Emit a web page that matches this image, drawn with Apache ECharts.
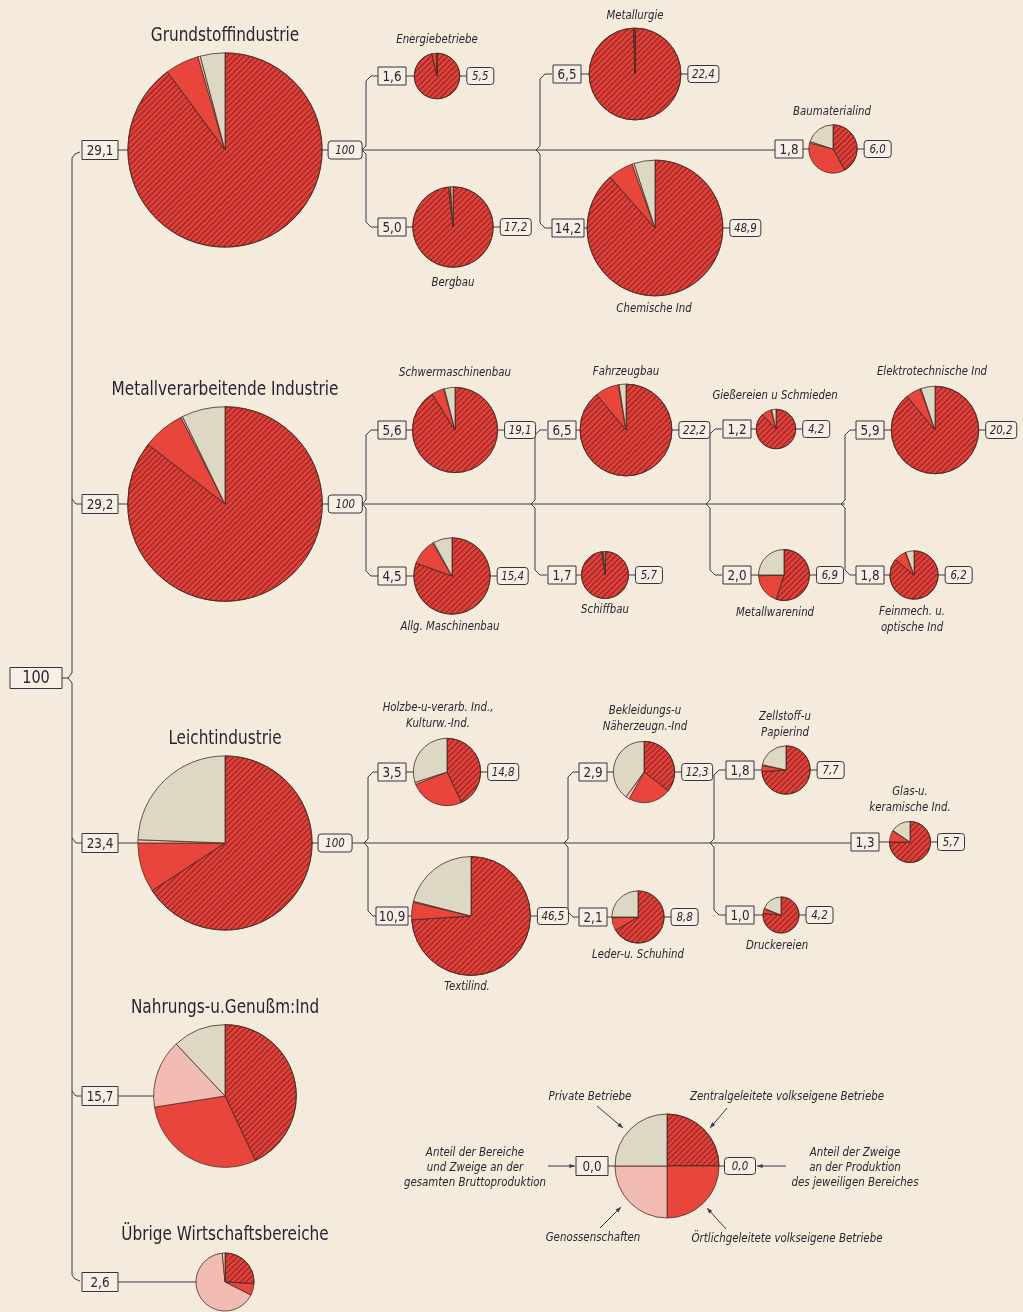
<!DOCTYPE html>
<html>
<head>
<meta charset="utf-8">
<title>Bruttoproduktion nach Bereichen und Zweigen</title>
<script src="https://cdn.jsdelivr.net/npm/echarts@6/dist/echarts.min.js"></script>
<style>
html, body { margin: 0; padding: 0; background: #f4ebdc; }
#eChart { width: 1023px; height: 1312px; }
</style>
</head>
<body>
<div id="eChart"></div>
<script>
// Eigentumsformen (Reihenfolge im Uhrzeigersinn ab 12 Uhr)
var ownerNames = ['Zentralgeleitete volkseigene Betriebe', 'Örtlichgeleitete volkseigene Betriebe', 'Genossenschaften', 'Private Betriebe'];

// Bereiche
var sectorNames = ['Grundstoffindustrie', 'Metallverarbeitende Industrie', 'Leichtindustrie', 'Nahrungs-u.Genußm:Ind', 'Übrige Wirtschaftsbereiche'];
var sectorTotal = [29.1, 29.2, 23.4, 15.7, 2.6];
var sectorOwner = [
    [89.9, 5.6, 0.4, 4.1],
    [85.5, 7.0, 0.3, 7.2],
    [65.8, 9.2, 0.6, 24.4],
    [43.0, 29.5, 15.5, 12.0],
    [26.0, 6.5, 66.0, 1.5]
];

// Zweige
var branchNames = ['Energiebetriebe', 'Bergbau', 'Metallurgie', 'Chemische Ind', 'Baumaterialind',
    'Schwermaschinenbau', 'Allg. Maschinenbau', 'Fahrzeugbau', 'Schiffbau', 'Gießereien u Schmieden',
    'Metallwarenind', 'Elektrotechnische Ind', 'Feinmech. u.\noptische Ind',
    'Holzbe-u-verarb. Ind.,\nKulturw.-Ind.', 'Textilind.', 'Bekleidungs-u\nNäherzeugn.-Ind',
    'Leder-u. Schuhind', 'Zellstoff-u\nPapierind', 'Druckereien', 'Glas-u.\nkeramische Ind.'];
var branchTotal = [1.6, 5.0, 6.5, 14.2, 1.8, 5.6, 4.5, 6.5, 1.7, 1.2, 2.0, 5.9, 1.8, 3.5, 10.9, 2.9, 2.1, 1.8, 1.0, 1.3];
var branchInSector = [5.5, 17.2, 22.4, 48.9, 6.0, 19.1, 15.4, 22.2, 5.7, 4.2, 6.9, 20.2, 6.2, 14.8, 46.5, 12.3, 8.8, 7.7, 4.2, 5.7];
var branchOwner = [
    [96.5, 3.0, 0.1, 0.4],
    [98.2, 0.8, 0.1, 0.9],
    [99.5, 0.2, 0.1, 0.2],
    [88.5, 6.0, 0.5, 5.0],
    [42.0, 37.0, 1.0, 20.0],
    [91.0, 4.7, 0.3, 4.0],
    [80.5, 11.0, 0.5, 8.0],
    [89.0, 8.3, 0.3, 2.4],
    [98.0, 0.8, 0.2, 1.0],
    [88.0, 8.0, 0.5, 3.5],
    [55.0, 19.5, 0.5, 25.0],
    [89.0, 5.5, 0.3, 5.2],
    [86.0, 8.0, 0.5, 5.5],
    [43.0, 26.0, 1.0, 30.0],
    [74.0, 4.7, 0.3, 21.0],
    [35.5, 22.5, 2.0, 40.0],
    [66.5, 8.0, 0.5, 25.0],
    [74.0, 4.0, 0.5, 21.5],
    [76.5, 4.0, 0.5, 19.0],
    [75.0, 9.0, 0.5, 15.5]
];
var legendOwner = [25, 25, 25, 25];

// --- Layout (Pixel) ---
var sectorCenter = [[225, 150], [225, 504], [225, 843], [225, 1096], [225, 1282]];
var sectorTitleY = [36, 390, 739, 1008, 1235];
var sectorLineEnd = [775, 845, 851, null, null];
var branchCenter = [[437, 76], [453, 227], [635, 74], [655, 228], [833, 149],
    [455, 430], [452, 576], [626, 430], [605, 575], [776, 429], [784, 575], [935, 430], [914, 575],
    [447, 772], [471, 916], [644, 772], [638, 917], [786, 770], [781, 915], [910, 842]];
var branchBoxX = [378, 378, 553, 552, 775, 378, 378, 548, 548, 723, 723, 856, 856, 378, 376, 579, 579, 726, 726, 851];
var branchLabelPos = [[437, 40], [453, 283], [635, 16], [654, 309], [832, 112],
    [455, 373], [450, 627], [626, 372], [605, 610], [775, 396], [775, 613], [932, 372], [912, 620],
    [438, 716], [467, 987], [645, 719], [638, 955], [785, 725], [777, 946], [910, 800]];
var brackets = [[366, 76, 150, 227], [540, 74, 150, 228],
    [366, 430, 504, 576], [535, 430, 504, 575], [710, 429, 504, 575], [845, 430, 504, 575],
    [368, 772, 843, 916], [568, 772, 843, 917], [714, 770, 843, 915]];

var bg = '#f4ebdc';
var ink = '#2b2430';
var lineColor = '#40364a';
var narrow = "'DejaVu Sans Condensed', 'DejaVu Sans', sans-serif";
var ownerColors = ['#e0403a', '#e8463d', '#f2bcb2', '#ddd8c4'];
var hatch = {
    symbol: 'rect',
    symbolSize: 1,
    dashArrayX: [1, 0],
    dashArrayY: [1, 2.4],
    rotation: -Math.PI / 4,
    color: 'rgba(80, 14, 12, 0.6)'
};

function radiusOf(v) { return 18 * Math.sqrt(v); }
function fmt(v) { return v >= 100 ? String(v) : v.toFixed(1).replace('.', ','); }

function pieSeries(name, center, r, values) {
    return {
        type: 'pie',
        name: name,
        center: center,
        radius: r,
        startAngle: 90,
        clockwise: true,
        silent: true,
        animation: false,
        z: 2,
        label: { show: false },
        labelLine: { show: false },
        itemStyle: { borderColor: '#4d2b24', borderWidth: 0.8 },
        data: values.map(function (v, i) {
            var st = { color: ownerColors[i] };
            if (i === 0) st.decal = hatch;
            return { name: ownerNames[i], value: v, itemStyle: st };
        })
    };
}

var graphics = [];
function addLine(points) {
    graphics.push({ type: 'polyline', z: 1, silent: true, shape: { points: points },
        style: { stroke: lineColor, lineWidth: 1, fill: null } });
}
// sx: horizontale Stauchung, damit die Schrift schmal wirkt wie im Original
function addText(x, y, txt, size, italic, sx) {
    graphics.push({ type: 'text', z: 6, silent: true, x: x, y: y, scaleX: sx || 1,
        style: { text: txt, fill: ink, fontSize: size, fontFamily: narrow,
            fontStyle: italic ? 'italic' : 'normal', align: 'center', verticalAlign: 'middle',
            lineHeight: size + 3 } });
}
function addBox(cx, cy, w, h, txt, size, italic) {
    graphics.push({ type: 'rect', z: 5, silent: true,
        shape: { x: cx - w / 2, y: cy - h / 2, width: w, height: h, r: italic ? 3 : 0 },
        style: { fill: '#f6efe3', stroke: '#3a3140', lineWidth: 1 } });
    addText(cx, cy + 1, txt, size, italic, 0.95);
}
function addArrow(x1, y1, x2, y2) {
    addLine([[x1, y1], [x2, y2]]);
    var a = Math.atan2(y2 - y1, x2 - x1), s = 6;
    graphics.push({ type: 'polygon', z: 1, silent: true,
        shape: { points: [[x2, y2],
            [x2 - s * Math.cos(a - 0.35), y2 - s * Math.sin(a - 0.35)],
            [x2 - s * Math.cos(a + 0.35), y2 - s * Math.sin(a + 0.35)]] },
        style: { fill: lineColor } });
}

var series = [];

// Wurzel
addBox(36, 678, 52, 21, '100', 17, false);
addLine([[62, 678], [68, 678]]);
addLine([[80, 152], [75, 154], [72, 158], [72, 673], [68, 678], [72, 683], [72, 1275], [75, 1279], [80, 1281]]);

// Bereiche
sectorNames.forEach(function (name, i) {
    var c = sectorCenter[i], r = radiusOf(sectorTotal[i]);
    series.push(pieSeries(name, c, r, sectorOwner[i]));
    if (i > 0 && i < sectorNames.length - 1) addLine([[72, c[1] - 5], [76, c[1]], [82, c[1]]]);
    addBox(100, c[1], 36, 19, fmt(sectorTotal[i]), 14, false);
    addText(c[0], sectorTitleY[i], name, 20, false, 0.85);
    if (sectorLineEnd[i]) {
        addLine([[118, c[1]], [sectorLineEnd[i], c[1]]]);
        addBox(c[0] + r + 6 + 17, c[1], 34, 18, '100', 12, true);
    } else {
        addLine([[118, c[1]], [c[0], c[1]]]);
    }
});

// Klammern
brackets.forEach(function (b) {
    var x = b[0];
    addLine([[x + 12, b[1]], [x + 5, b[1]], [x, b[1] + 5], [x, b[2] - 4], [x - 4, b[2]],
        [x, b[2] + 4], [x, b[3] - 5], [x + 5, b[3]], [x + 12, b[3]]]);
});

// Zweige
branchNames.forEach(function (name, i) {
    var c = branchCenter[i], r = radiusOf(branchTotal[i]);
    series.push(pieSeries(name, c, r, branchOwner[i]));
    var t1 = fmt(branchTotal[i]), t2 = fmt(branchInSector[i]);
    var w1 = t1.length > 3 ? 32 : 28, w2 = t2.length > 3 ? 31 : 27;
    var x2 = c[0] + r + 7;
    addLine([[branchBoxX[i], c[1]], [x2, c[1]]]);
    addBox(branchBoxX[i] + w1 / 2, c[1], w1, 18, t1, 14, false);
    addBox(x2 + w2 / 2, c[1], w2, 17, t2, 12, true);
    addText(branchLabelPos[i][0], branchLabelPos[i][1], name, 13, true, 0.87);
});

// Legende
series.push(pieSeries('Legende', [667, 1166], 52, legendOwner));
addLine([[608, 1166], [724, 1166]]);
addBox(592, 1166, 32, 19, '0,0', 14, false);
addBox(740, 1166, 31, 17, '0,0', 12, true);
addArrow(548, 1166, 575, 1166);
addArrow(786, 1166, 757, 1166);
addArrow(597, 1106, 623, 1128);
addArrow(727, 1108, 710, 1128);
addArrow(600, 1228, 621, 1207);
addArrow(726, 1229, 707, 1208);
addText(590, 1097, 'Private Betriebe', 12, true, 0.95);
addText(787, 1097, 'Zentralgeleitete volkseigene Betriebe', 12, true, 0.95);
addText(475, 1168, 'Anteil der Bereiche\nund Zweige an der\ngesamten Bruttoproduktion', 12, true, 0.95);
addText(855, 1168, 'Anteil der Zweige\nan der Produktion\ndes jeweiligen Bereiches', 12, true, 0.95);
addText(593, 1238, 'Genossenschaften', 12, true, 0.95);
addText(787, 1239, 'Örtlichgeleitete volkseigene Betriebe', 12, true, 0.95);

var option = {
    backgroundColor: bg,
    animation: false,
    series: series,
    graphic: { elements: graphics }
};

var chart = echarts.init(document.getElementById('eChart'));
chart.setOption(option);
</script>
</body>
</html>
